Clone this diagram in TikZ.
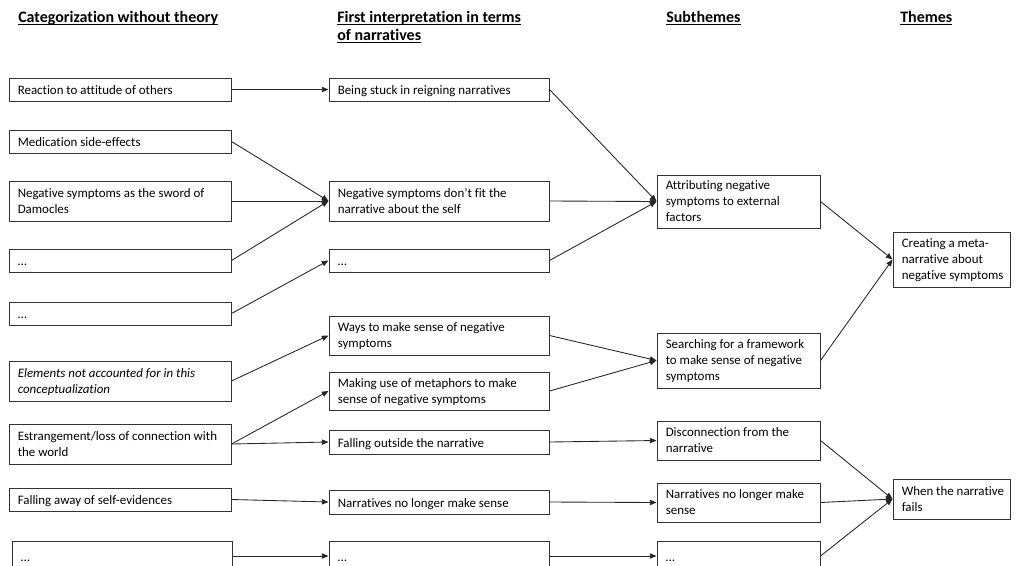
\documentclass[tikz,border=0pt]{standalone}
\usepackage{fontspec}
\setmainfont{Carlito}[Ligatures=NoCommon]
\usetikzlibrary{arrows.meta,fit}
\newcommand\hdul[1]{\setbox0\hbox{#1}\rlap{\rule[-2.4pt]{\wd0}{0.75pt}}\box0}
\newcommand\bx[6]{%
  \path (#2,#3) coordinate (#1-nw) (#4,#5) coordinate (#1-se);
  \node[box, fit=(#1-nw)(#1-se)] (#1) {};
  \node[txt] (#1-t) at ([xshift=6.75pt,yshift=-1.6pt]#1.west) {#6};
}
\begin{document}
\begin{tikzpicture}[x=0.75pt, y=-0.75pt,
  box/.style={draw=black!80, line width=0.75pt, inner sep=0pt, rectangle},
  txt/.style={anchor=west, align=left, inner sep=0pt, font=\fontsize{9.7}{12.2}\selectfont,
    execute at begin node=\strut, execute at end node=\strut},
  head/.style={anchor=base west, inner sep=0pt, font=\fontsize{12}{14}\selectfont\bfseries},
  arr/.style={draw=black!85, line width=0.65pt, -{Triangle[length=5pt,width=4pt]}}]
\useasboundingbox[fill=white] (0,0) rectangle (1016,565);
\clip (0,0) rectangle (1016,565);
% headers
\node[head] (h1) at (18,22) {\hdul{Categorization without theory}};
\node[head] (h2a) at (337,22) {\hdul{First interpretation in terms}};
\node[head] (h2b) at (337,40) {\hdul{of narratives}};
\node[head] (h3) at (666,22) {\hdul{Subthemes}};
\node[head] (h4) at (900,22) {\hdul{Themes}};
% column 1
\bx{c1a}{9}{78}{231}{101}{Reaction to attitude of others}
\bx{c1b}{9}{130}{231}{153}{Medication side-effects}
\bx{c1c}{9}{181}{231}{221}{Negative symptoms as the sword of\\Damocles}
\bx{c1d}{9}{249}{231}{272}{…}
\bx{c1e}{9}{302}{231}{325}{…}
\bx{c1f}{9}{361}{231}{401}{\itshape Elements not accounted for in this\\\itshape conceptualization}
\bx{c1g}{9}{424}{231}{464}{Estrangement/loss of connection with\\the world}
\bx{c1h}{9}{488}{231}{511}{Falling away of self-evidences}
\bx{c1i}{12}{541}{232}{571}{…}
% column 2
\bx{c2a}{329}{78}{549}{101}{Being stuck in reigning narratives}
\bx{c2b}{329}{181}{549}{221}{Negative symptoms don’t fit the\\narrative about the self}
\bx{c2c}{329}{249}{549}{272}{…}
\bx{c2d}{329}{316}{549}{355}{Ways to make sense of negative\\symptoms}
\bx{c2e}{329}{372}{549}{410}{Making use of metaphors to make\\sense of negative symptoms}
\bx{c2f}{329}{430}{549}{454}{Falling outside the narrative}
\bx{c2g}{329}{490}{549}{514}{Narratives no longer make sense}
\bx{c2h}{329}{541}{549}{571}{…}
% column 3
\bx{c3a}{657}{175}{820}{228}{Attributing negative\\symptoms to external\\factors}
\bx{c3b}{657}{333}{820}{388}{Searching for a framework\\to make sense of negative\\symptoms}
\bx{c3c}{657}{421}{820}{460}{Disconnection from the\\narrative}
\bx{c3d}{657}{483}{820}{522}{Narratives no longer make\\sense}
\bx{c3e}{657}{541}{820}{571}{…}
% column 4
\bx{c4a}{893}{232}{1010}{287}{Creating a meta-\\narrative about\\negative symptoms}
\bx{c4b}{893}{479}{1010}{519}{When the narrative\\fails}
% connectors col1 -> col2
\draw[arr] (c1a.east) -- (c2a.west);
\draw[arr] (c1b.east) -- (c2b.west);
\draw[arr] (c1c.east) -- (c2b.west);
\draw[arr] (c1d.east) -- (c2b.west);
\draw[arr] (c1e.east) -- (c2c.west);
\draw[arr] (c1f.east) -- (c2d.west);
\draw[arr] (c1g.east) -- (c2e.west);
\draw[arr] (c1g.east) -- (c2f.west);
\draw[arr] (c1h.east) -- (c2g.west);
\draw[arr] (c1i.east) -- (c2h.west);
% col2 -> col3
\draw[arr] (c2a.east) -- (c3a.west);
\draw[arr] (c2b.east) -- (c3a.west);
\draw[arr] (c2c.east) -- (c3a.west);
\draw[arr] (c2d.east) -- (c3b.west);
\draw[arr] (c2e.east) -- (c3b.west);
\draw[arr] (c2f.east) -- (c3c.west);
\draw[arr] (c2g.east) -- (c3d.west);
\draw[arr] (c2h.east) -- (c3e.west);
% col3 -> col4
\draw[arr] (c3a.east) -- (c4a.west);
\draw[arr] (c3b.east) -- (c4a.west);
\draw[arr] (c3c.east) -- (c4b.west);
\draw[arr] (c3d.east) -- (c4b.west);
\draw[arr] (c3e.east) -- (c4b.west);
\end{tikzpicture}
\end{document}
